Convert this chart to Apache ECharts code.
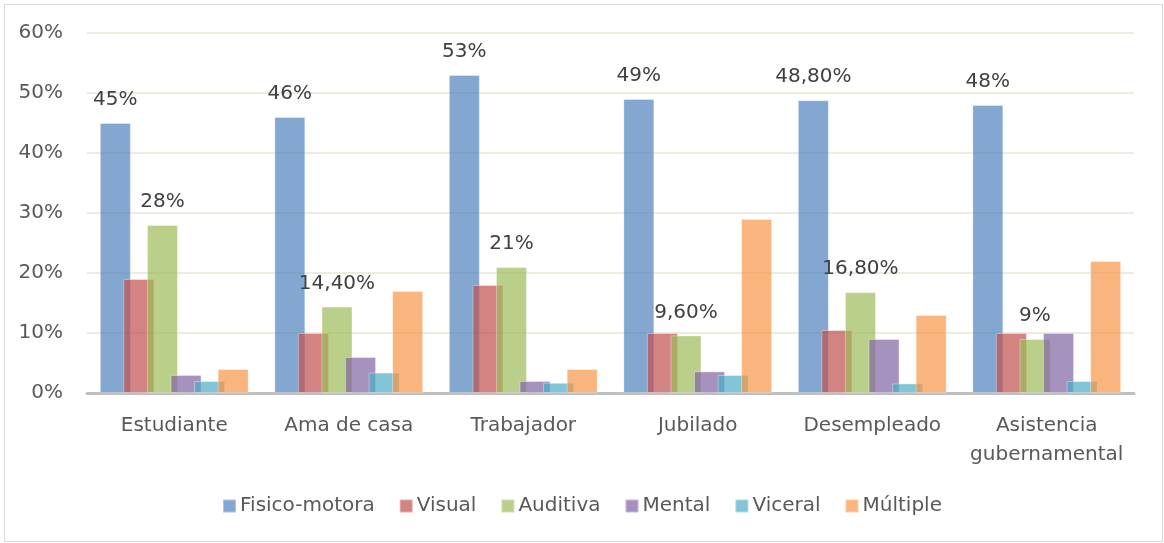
<!DOCTYPE html>
<html>
<head>
<meta charset="utf-8">
<script src="https://cdn.jsdelivr.net/npm/echarts@6/dist/echarts.min.js"></script>
<style>
  body { margin: 0; background: #ffffff; }
  #wrap { position: relative; width: 1164px; height: 543px; }
  #chart { width: 1164px; height: 543px; }
  #frame {
    position: absolute; left: 4px; top: 4px; width: 1157px; height: 536px;
    border: 1px solid #d9d9d9; pointer-events: none;
  }
</style>
</head>
<body>
<div id="wrap">
  <div id="chart"></div>
  <div id="frame"></div>
</div>
<script>
// data
var categories = ['Estudiante', 'Ama de casa', 'Trabajador', 'Jubilado', 'Desempleado', 'Asistencia\ngubernamental']
var seriesNames = ['Fisico-motora', 'Visual', 'Auditiva', 'Mental', 'Viceral', 'Múltiple']
var fisicoMotora = [45, 46, 53, 49, 48.8, 48]
var visual = [19, 10, 18, 10, 10.5, 10]
var auditiva = [28, 14.4, 21, 9.6, 16.8, 9]
var mental = [3, 6, 2, 3.6, 9, 10]
var viceral = [2, 3.4, 1.7, 3, 1.6, 2]
var multiple = [4, 17, 4, 29, 13, 22]
var yTicks = [0, 10, 20, 30, 40, 50, 60]

// office palette, drawn see-through so the overlapping bars mix
var colors = ['rgba(79,129,189,0.7)', 'rgba(192,80,77,0.7)', 'rgba(155,187,89,0.7)',
  'rgba(128,100,162,0.7)', 'rgba(75,172,198,0.7)', 'rgba(247,150,70,0.7)']
var allValues = [fisicoMotora, visual, auditiva, mental, viceral, multiple]
var labelled = [true, false, true, false, false, false]
var font = '"DejaVu Sans", sans-serif'

function pct (v) {
  if (Math.round(v) === v) return v + '%'
  return v.toFixed(2).replace('.', ',') + '%'
}

var series = seriesNames.map(function (name, i) {
  return {
    name: name,
    type: 'bar',
    data: allValues[i],
    barWidth: 31,
    barGap: '-24%',
    itemStyle: {
      color: colors[i],
      borderColor: 'rgba(255,255,255,0.35)',
      borderWidth: 1
    },
    label: {
      show: labelled[i],
      position: 'top',
      distance: 13,
      color: '#404040',
      fontSize: 20,
      fontFamily: font,
      formatter: function (p) { return pct(p.value) }
    },
    emphasis: { disabled: true }
  }
})

var chart = echarts.init(document.getElementById('chart'))
chart.setOption({
  animation: false,
  color: colors,
  grid: { left: 87, right: 30, top: 33, bottom: 150, containLabel: false },
  legend: {
    data: seriesNames,
    bottom: 22,
    left: 'center',
    itemWidth: 13,
    itemHeight: 13,
    itemGap: 24,
    icon: 'rect',
    textStyle: { color: '#595959', fontSize: 20, fontFamily: font, padding: [0, 0, 0, -1] }
  },
  xAxis: {
    type: 'category',
    data: categories,
    axisLine: { lineStyle: { color: '#bfbfbf', width: 3 } },
    axisTick: { show: false },
    axisLabel: {
      color: '#595959',
      fontSize: 20,
      fontFamily: font,
      margin: 18,
      lineHeight: 29,
      interval: 0
    }
  },
  yAxis: {
    type: 'value',
    min: yTicks[0],
    max: yTicks[yTicks.length - 1],
    interval: 10,
    axisLine: { show: false },
    axisTick: { show: false },
    splitLine: { lineStyle: { color: '#eeebe0', width: 2 } },
    axisLabel: {
      color: '#595959',
      fontSize: 20,
      fontFamily: font,
      margin: 24,
      formatter: '{value}%'
    }
  },
  series: series
})
</script>
</body>
</html>
